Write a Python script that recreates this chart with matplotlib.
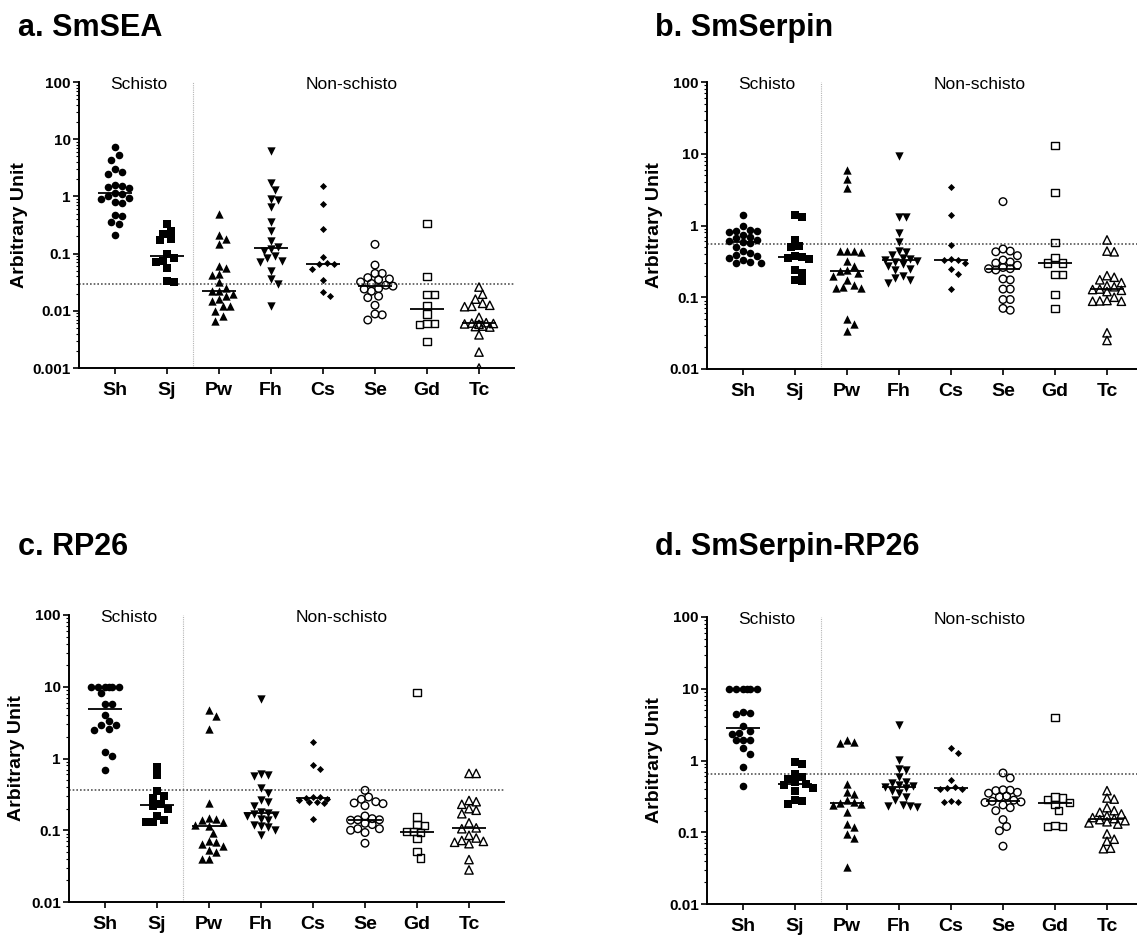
import numpy as np
import matplotlib
matplotlib.use('Agg')
import matplotlib.pyplot as plt
import matplotlib.transforms as mtransforms
from matplotlib.ticker import FixedLocator, LogLocator, NullFormatter

plt.rcParams['font.family'] = ['Liberation Sans', 'DejaVu Sans']

groups = ['Sh', 'Sj', 'Pw', 'Fh', 'Cs', 'Se', 'Gd', 'Tc']
titles = ['a. SmSEA', 'b. SmSerpin', 'c. RP26', 'd. SmSerpin-RP26']
cutoffs = [0.03, 0.55, 0.36, 0.65]
y_bottoms = [0.001, 0.01, 0.01, 0.01]
y_ticks = [0.001, 0.01, 0.1, 1, 10, 100]
y_tick_labels = ['0.001', '0.01', '0.1', '1', '10', '100']

# a. SmSEA, one list per group in the order of groups
smsea_values = [
	[7.2, 5.4, 4.3, 3.0, 2.7, 2.5, 1.6, 1.5, 1.45, 1.4, 1.15, 1.1, 1.0, 0.95, 0.9, 0.8, 0.78, 0.47, 0.45, 0.36, 0.33, 0.21],
	[0.33, 0.25, 0.22, 0.18, 0.17, 0.10, 0.085, 0.075, 0.072, 0.057, 0.033, 0.032],
	[0.5, 0.21, 0.18, 0.15, 0.06, 0.055, 0.044, 0.042, 0.032, 0.025, 0.022, 0.022, 0.020, 0.018, 0.016, 0.015, 0.012, 0.012, 0.010, 0.008, 0.0066],
	[6.1, 1.7, 1.3, 0.9, 0.86, 0.65, 0.35, 0.25, 0.165, 0.13, 0.12, 0.11, 0.09, 0.085, 0.075, 0.07, 0.05, 0.036, 0.03, 0.012],
	[1.5, 0.75, 0.27, 0.088, 0.068, 0.066, 0.065, 0.053, 0.034, 0.021, 0.018],
	[0.145, 0.063, 0.045, 0.045, 0.038, 0.036, 0.035, 0.032, 0.030, 0.028, 0.027, 0.0245, 0.024, 0.022, 0.018, 0.017, 0.0125, 0.0088, 0.0085, 0.0069],
	[0.33, 0.04, 0.0195, 0.019, 0.0123, 0.0088, 0.006, 0.0059, 0.0058, 0.0029],
	[0.026, 0.0195, 0.016, 0.0135, 0.0125, 0.012, 0.0118, 0.0077, 0.0062, 0.0061, 0.006, 0.0059, 0.0058, 0.0054, 0.0053, 0.0052, 0.0038, 0.0019, 0.001],
]

# b. SmSerpin
smserpin_values = [
	[1.4, 1.0, 0.86, 0.85, 0.84, 0.8, 0.74, 0.7, 0.67, 0.63, 0.6, 0.58, 0.57, 0.5, 0.44, 0.41, 0.39, 0.37, 0.35, 0.33, 0.31, 0.3, 0.3],
	[1.4, 1.33, 0.63, 0.51, 0.5, 0.37, 0.365, 0.35, 0.34, 0.24, 0.22, 0.175, 0.167],
	[5.9, 4.4, 3.3, 0.44, 0.44, 0.44, 0.43, 0.32, 0.27, 0.24, 0.23, 0.22, 0.2, 0.175, 0.147, 0.14, 0.135, 0.135, 0.049, 0.042, 0.034],
	[9.3, 1.33, 1.33, 0.78, 0.58, 0.44, 0.43, 0.39, 0.35, 0.34, 0.33, 0.32, 0.31, 0.29, 0.27, 0.25, 0.24, 0.2, 0.185, 0.175, 0.16],
	[3.4, 1.4, 0.53, 0.34, 0.335, 0.33, 0.3, 0.25, 0.21, 0.13],
	[2.15, 0.47, 0.44, 0.43, 0.38, 0.33, 0.31, 0.3, 0.28, 0.26, 0.25, 0.25, 0.24, 0.18, 0.175, 0.13, 0.13, 0.093, 0.093, 0.07, 0.066],
	[13.2, 2.9, 0.58, 0.36, 0.3, 0.3, 0.21, 0.21, 0.11, 0.07],
	[0.63, 0.44, 0.43, 0.2, 0.19, 0.175, 0.16, 0.145, 0.14, 0.13, 0.128, 0.125, 0.12, 0.1, 0.09, 0.089, 0.088, 0.088, 0.032, 0.025],
]

# c. RP26
rp26_values = [
	[10, 10, 10, 10, 10, 10, 8.3, 5.8, 5.8, 4.07, 3.3, 2.97, 2.97, 2.6, 2.5, 1.23, 1.1, 0.69],
	[0.76, 0.58, 0.35, 0.3, 0.28, 0.23, 0.22, 0.2, 0.16, 0.14, 0.13, 0.13],
	[4.7, 3.9, 2.6, 0.24, 0.15, 0.145, 0.14, 0.13, 0.12, 0.115, 0.092, 0.07, 0.068, 0.065, 0.06, 0.053, 0.05, 0.04, 0.04],
	[6.8, 0.6, 0.58, 0.57, 0.39, 0.33, 0.26, 0.25, 0.22, 0.18, 0.175, 0.17, 0.165, 0.16, 0.145, 0.14, 0.12, 0.115, 0.11, 0.1, 0.085],
	[1.69, 0.8, 0.72, 0.29, 0.29, 0.28, 0.275, 0.26, 0.245, 0.245, 0.24, 0.145],
	[0.36, 0.29, 0.27, 0.25, 0.24, 0.235, 0.22, 0.158, 0.145, 0.14, 0.14, 0.138, 0.125, 0.12, 0.105, 0.105, 0.1, 0.093, 0.066],
	[8.2, 0.153, 0.12, 0.115, 0.097, 0.095, 0.094, 0.076, 0.051, 0.041],
	[0.62, 0.62, 0.26, 0.25, 0.23, 0.2, 0.19, 0.17, 0.127, 0.108, 0.105, 0.085, 0.078, 0.072, 0.07, 0.068, 0.065, 0.039, 0.028],
]

# d. SmSerpin-RP26
combo_values = [
	[10, 10, 10, 10, 10, 10, 4.7, 4.6, 4.5, 3.0, 2.6, 2.45, 2.37, 1.94, 1.94, 1.9, 1.47, 1.22, 0.82, 0.44],
	[0.95, 0.88, 0.65, 0.59, 0.56, 0.5, 0.47, 0.45, 0.42, 0.38, 0.28, 0.27, 0.25],
	[1.96, 1.8, 1.75, 0.47, 0.36, 0.34, 0.28, 0.26, 0.255, 0.25, 0.24, 0.19, 0.13, 0.12, 0.095, 0.084, 0.033],
	[3.1, 1.03, 0.77, 0.74, 0.59, 0.5, 0.49, 0.45, 0.44, 0.43, 0.41, 0.38, 0.35, 0.31, 0.28, 0.24, 0.235, 0.23, 0.225],
	[1.48, 1.26, 0.54, 0.43, 0.41, 0.405, 0.4, 0.27, 0.265, 0.26],
	[0.67, 0.57, 0.39, 0.385, 0.38, 0.36, 0.35, 0.32, 0.31, 0.28, 0.27, 0.265, 0.26, 0.24, 0.22, 0.2, 0.15, 0.12, 0.105, 0.064],
	[4.0, 0.31, 0.3, 0.29, 0.26, 0.245, 0.2, 0.125, 0.12, 0.12],
	[0.38, 0.3, 0.29, 0.22, 0.2, 0.19, 0.18, 0.17, 0.16, 0.155, 0.15, 0.145, 0.14, 0.135, 0.13, 0.095, 0.08, 0.075, 0.06, 0.059],
]

# marker, filled, size
MARKERS = [('o', True, 30), ('s', True, 26), ('^', True, 36), ('v', True, 36),
	('D', True, 13), ('o', False, 30), ('s', False, 26), ('^', False, 36)]

FIG_W, FIG_H = 1137, 941
UNIT_PX = 52
# pixel x of the first group, pixel y of axis bottom and top, gap of the y label
PANEL_PLACES = [(115, 368, 82, 51), (743, 369, 82, 44), (105, 902, 615, 44), (743, 904, 617, 44)]
TITLE_PLACES = [(18, 36), (655, 36), (18, 555), (655, 555)]
X_LEFT, X_RIGHT = -0.7, 7.67


def main():
	fig = plt.figure(figsize=(FIG_W / 100, FIG_H / 100), dpi=100)
	panels = [smsea_values, smserpin_values, rp26_values, combo_values]
	for n, values in enumerate(panels):
		ax = MakeAxes(fig, n)
		DoPanel(ax, values, cutoffs[n])
		fig.text(TITLE_PLACES[n][0] / FIG_W, 1 - TITLE_PLACES[n][1] / FIG_H, titles[n],
			fontsize=22, fontweight='bold', va='baseline', ha='left')
	fig.savefig('out.png', dpi=100)


def MakeAxes(fig, n):
	"""	Places one panel by pixels and styles it like the Prism plots.
	"""
	x0, bottom, top, label_gap = PANEL_PLACES[n]
	left_px = x0 + X_LEFT * UNIT_PX
	width_px = (X_RIGHT - X_LEFT) * UNIT_PX
	ax = fig.add_axes([left_px / FIG_W, 1 - bottom / FIG_H, width_px / FIG_W, (bottom - top) / FIG_H])
	ax.set_yscale('log')
	ax.set_xlim(X_LEFT, X_RIGHT)
	ax.set_ylim(y_bottoms[n], 100)
	ax.spines['top'].set_visible(False)
	ax.spines['right'].set_visible(False)
	for side in ['left', 'bottom']:
		ax.spines[side].set_linewidth(1.4)
	ticks = [t for t in y_ticks if t >= y_bottoms[n]]
	labels = [y_tick_labels[y_ticks.index(t)] for t in ticks]
	ax.yaxis.set_major_locator(FixedLocator(ticks))
	ax.set_yticklabels(labels, fontsize=11, fontweight='bold')
	ax.yaxis.set_minor_locator(LogLocator(base=10, subs=np.arange(2, 10)))
	ax.yaxis.set_minor_formatter(NullFormatter())
	ax.tick_params(axis='y', which='major', length=4, width=1.2, pad=1.5)
	ax.tick_params(axis='y', which='minor', length=2.5, width=0.8)
	ax.set_xticks(range(len(groups)))
	ax.set_xticklabels(groups, fontsize=14, fontweight='bold')
	ax.tick_params(axis='x', length=4, width=1.2, pad=6)
	ax.set_ylabel('Arbitrary Unit', fontsize=14, fontweight='bold')
	ax.yaxis.set_label_coords(-label_gap / width_px, 0.5)
	blend = mtransforms.blended_transform_factory(ax.transData, ax.transAxes)
	text_y = 1 - 7 / (bottom - top)
	ax.text(0.45, text_y, 'Schisto', transform=blend, ha='center', va='baseline', fontsize=12.5)
	ax.text(4.55, text_y, 'Non-schisto', transform=blend, ha='center', va='baseline', fontsize=12.5)
	return ax


def DoPanel(ax, values, cutoff):
	ax.axvline(1.5, color='#b5b5b5', lw=0.8, ls=(0, (1, 1)), zorder=1)
	ax.axhline(cutoff, color='#555555', lw=1.2, ls=(0, (1, 1.2)), zorder=1)
	for i, group_values in enumerate(values):
		marker, filled, size = MARKERS[i]
		xs = SwarmPositions(ax, group_values, i, 7.2, 0.36)
		if filled:
			ax.scatter(xs, group_values, marker=marker, s=size, color='black', linewidths=0, zorder=3)
		else:
			ax.scatter(xs, group_values, marker=marker, s=size, facecolors='none',
				edgecolors='black', linewidths=1.0, zorder=3)
		ax.hlines(np.median(group_values), i - 0.32, i + 0.32, color='black', lw=1.3, zorder=4)


def SwarmPositions(ax, values, center, distance, max_spread):
	"""	Simple beeswarm: each point goes to the nearest free x offset
		(in pixels) so it does not sit on a point already placed.
		Offsets stay within max_spread; if no free place is left, the
		least crowded one is used.
	"""
	values = np.asarray(values, dtype=float)
	pts = ax.transData.transform(np.column_stack([np.full(len(values), center), values]))
	ys = pts[:, 1]
	unit_px = ax.transData.transform((center + 1, values[0]))[0] - pts[0, 0]
	step = distance * 0.5
	limit = int(max_spread * unit_px / step)
	shifts = [0.0]
	for k in range(1, limit + 1):
		shifts += [k * step, -k * step]
	placed = []
	offsets = np.zeros(len(values))
	for i in np.argsort(-ys):
		best, best_gap = 0.0, -1.0
		for shift in shifts:
			gap = min([np.hypot(shift - px, ys[i] - py) for px, py in placed] or [np.inf])
			if gap >= distance:
				best = shift
				break
			if gap > best_gap + 0.5:
				best, best_gap = shift, gap
		placed.append((best, ys[i]))
		offsets[i] = best / unit_px
	return center + offsets


if __name__ == '__main__':
	main()
